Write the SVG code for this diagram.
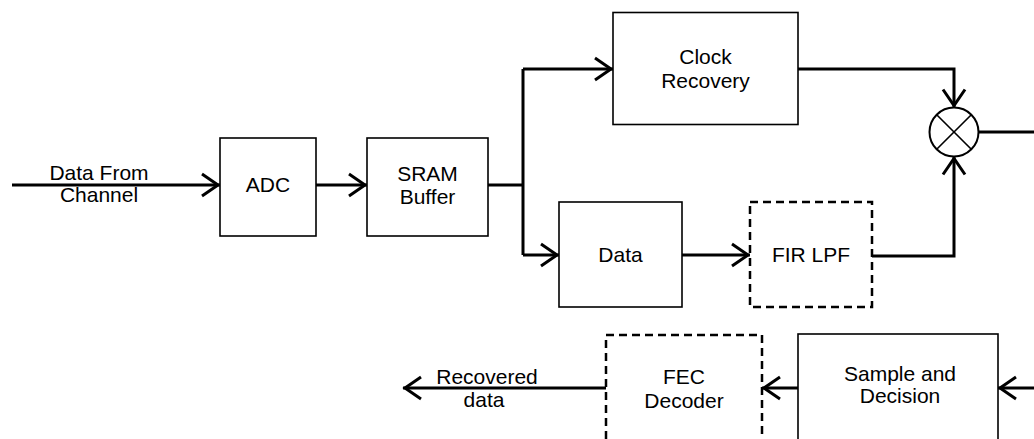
<svg xmlns="http://www.w3.org/2000/svg" width="1034" height="439" viewBox="0 0 1034 439">
<style>
.box{fill:#fff;stroke:#000;stroke-width:1.6}
.dbox{fill:#fff;stroke:#000;stroke-width:2.5;stroke-dasharray:8 5}
.wire{fill:none;stroke:#000;stroke-width:3}
.t{font-family:"Liberation Sans",Arial,sans-serif;font-size:21px;fill:#000;text-anchor:middle}
</style>
<defs>
<marker id="arr" markerUnits="userSpaceOnUse" viewBox="-22 -14 24 28" markerWidth="24" markerHeight="28" refX="0" refY="0" orient="auto" overflow="visible">
<path d="M-18,-11 L-2,0 L-18,11" fill="none" stroke="#000" stroke-width="3"/>
</marker>
</defs>
<rect width="1034" height="439" fill="#fff"/>
<g id="connectors">
<path class="wire" d="M12,185 H220" marker-end="url(#arr)"/>
<path class="wire" d="M316,185 H367" marker-end="url(#arr)"/>
<path class="wire" d="M488,185 H523 M523,69 V255"/>
<path class="wire" d="M523,69 H613" marker-end="url(#arr)"/>
<path class="wire" d="M523,255 H559" marker-end="url(#arr)"/>
<path class="wire" d="M682,255 H750" marker-end="url(#arr)"/>
<path class="wire" d="M798,69 H954 V107.5" marker-end="url(#arr)"/>
<path class="wire" d="M872,256 H954 V156.5" marker-end="url(#arr)"/>
<path class="wire" d="M978.5,132 H1034"/>
<path class="wire" d="M1034,388 H998" marker-end="url(#arr)"/>
<path class="wire" d="M798,388 H762" marker-end="url(#arr)"/>
<path class="wire" d="M606,388 H403" marker-end="url(#arr)"/>
</g>
<g id="label-input">
<text class="t" x="99" y="180">Data From</text>
<text class="t" x="99" y="201.5">Channel</text>
</g>
<g id="label-output">
<text class="t" x="487" y="383.5">Recovered</text>
<text class="t" x="484" y="407">data</text>
</g>
<g id="adc">
<rect class="box" x="220" y="138" width="96" height="98"/>
<text class="t" x="268" y="192">ADC</text>
</g>
<g id="sram">
<rect class="box" x="367" y="138" width="121" height="98"/>
<text class="t" x="427.5" y="180.5">SRAM</text>
<text class="t" x="427.5" y="204">Buffer</text>
</g>
<g id="clock-recovery">
<rect class="box" x="613" y="12.5" width="185" height="112"/>
<text class="t" x="705.5" y="63.5">Clock</text>
<text class="t" x="705.5" y="88">Recovery</text>
</g>
<g id="data">
<rect class="box" x="559" y="202" width="123" height="105"/>
<text class="t" x="620.5" y="262">Data</text>
</g>
<g id="fir-lpf">
<rect class="dbox" x="750" y="202" width="122" height="105"/>
<text class="t" x="811" y="262">FIR LPF</text>
</g>
<g id="mixer">
<circle cx="954" cy="132" r="24.5" fill="#fff" stroke="#000" stroke-width="2"/>
<path d="M936.7,114.7 L971.3,149.3 M971.3,114.7 L936.7,149.3" stroke="#000" stroke-width="1.6"/>
</g>
<g id="sample-decision">
<rect class="box" x="798" y="334" width="200" height="130"/>
<text class="t" x="900" y="381">Sample and</text>
<text class="t" x="900" y="403">Decision</text>
</g>
<g id="fec-decoder">
<rect class="dbox" x="606" y="335" width="156" height="130"/>
<text class="t" x="684" y="384">FEC</text>
<text class="t" x="684" y="408">Decoder</text>
</g>
</svg>
